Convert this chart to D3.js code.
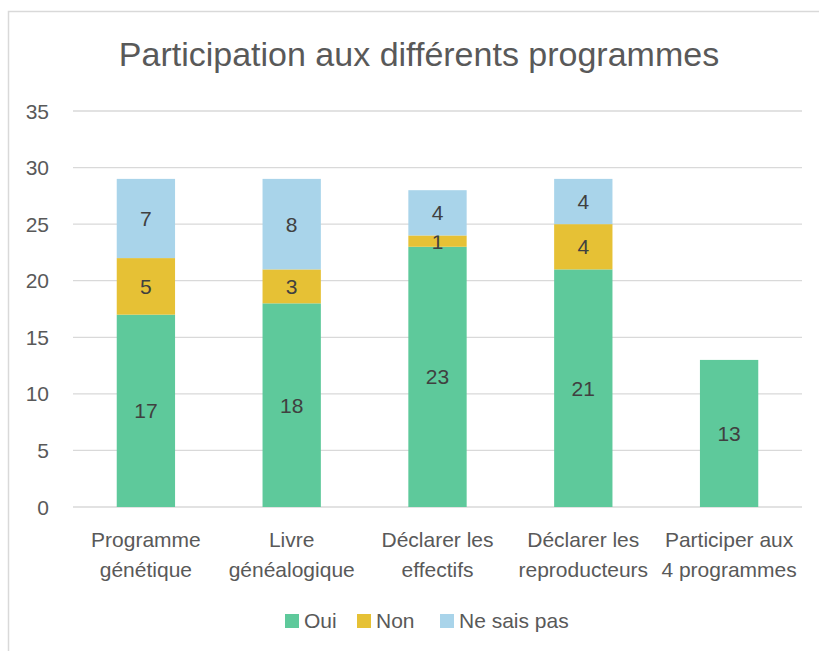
<!DOCTYPE html>
<html>
<head>
<meta charset="utf-8">
<script src="https://cdn.jsdelivr.net/npm/d3@7"></script>
<style>
  body { margin: 0; background: #fff; }
  text { font-family: "Liberation Sans", Arial, sans-serif; }
</style>
</head>
<body>
<div id="chart"></div>
<script>
// Data
const categories = [
  ["Programme", "génétique"],
  ["Livre", "généalogique"],
  ["Déclarer les", "effectifs"],
  ["Déclarer les", "reproducteurs"],
  ["Participer aux", "4 programmes"]
];
const oui = [17, 18, 23, 21, 13];
const non = [5, 3, 1, 4, 0];
const nsp = [7, 8, 4, 4, 0];
const seriesNames = ["Oui", "Non", "Ne sais pas"];
const yTicks = [0, 5, 10, 15, 20, 25, 30, 35];

const colors = ["#5EC99B", "#E6C135", "#A9D4EA"];

const W = 819, H = 651;
const margin = {top: 111, right: 17, bottom: 144, left: 73};
const width = W - margin.left - margin.right;
const height = H - margin.top - margin.bottom;

const svg = d3.select("#chart").append("svg")
  .attr("width", W).attr("height", H);

// Outer chart border (cropped on right and bottom)
svg.append("path")
  .attr("d", `M8.5,${H} V11.5 H${W}`)
  .attr("fill", "none")
  .attr("stroke", "#d9d9d9")
  .attr("stroke-width", 1.5);

// Title
svg.append("text")
  .attr("x", 419).attr("y", 66)
  .attr("text-anchor", "middle")
  .attr("font-size", 34)
  .attr("fill", "#595959")
  .text("Participation aux différents programmes");

const g = svg.append("g")
  .attr("transform", `translate(${margin.left},${margin.top})`);

const x = d3.scaleBand()
  .domain(d3.range(categories.length))
  .range([0, width])
  .paddingInner(0.6)
  .paddingOuter(0.3);

const y = d3.scaleLinear().domain([0, 35]).range([height, 0]);

// Gridlines
g.selectAll(".grid")
  .data(yTicks)
  .enter().append("line")
  .attr("x1", 0).attr("x2", width)
  .attr("y1", d => y(d)).attr("y2", d => y(d))
  .attr("stroke", "#d9d9d9")
  .attr("stroke-width", 1.3);

// Y tick labels
g.selectAll(".ytick")
  .data(yTicks)
  .enter().append("text")
  .attr("x", -24)
  .attr("y", d => y(d))
  .attr("dy", "0.36em")
  .attr("text-anchor", "end")
  .attr("font-size", 21)
  .attr("fill", "#595959")
  .text(d => d);

// Stack
const rows = categories.map((c, i) => ({i: i, Oui: oui[i], Non: non[i], "Ne sais pas": nsp[i]}));
const stacked = d3.stack().keys(seriesNames)(rows);

stacked.forEach((layer, li) => {
  layer.forEach(seg => {
    const v = seg[1] - seg[0];
    if (v <= 0) return;
    const xi = seg.data.i;
    g.append("rect")
      .attr("x", x(xi))
      .attr("y", y(seg[1]))
      .attr("width", x.bandwidth())
      .attr("height", y(seg[0]) - y(seg[1]))
      .attr("fill", colors[li]);
    g.append("text")
      .attr("x", x(xi) + x.bandwidth() / 2)
      .attr("y", y((seg[0] + seg[1]) / 2))
      .attr("dy", "0.36em")
      .attr("text-anchor", "middle")
      .attr("font-size", 21)
      .attr("fill", "#404040")
      .text(v);
  });
});

// Category labels
categories.forEach((lines, i) => {
  const t = g.append("text")
    .attr("x", x(i) + x.bandwidth() / 2)
    .attr("y", height + 40)
    .attr("text-anchor", "middle")
    .attr("font-size", 21)
    .attr("fill", "#595959");
  lines.forEach((l, k) => {
    t.append("tspan")
      .attr("x", x(i) + x.bandwidth() / 2)
      .attr("dy", k === 0 ? 0 : 30)
      .text(l);
  });
});

// Legend
const legendX = [285, 357, 440];
const legend = svg.append("g");
seriesNames.forEach((name, i) => {
  legend.append("rect")
    .attr("x", legendX[i]).attr("y", 614)
    .attr("width", 14).attr("height", 14)
    .attr("fill", colors[i]);
  legend.append("text")
    .attr("x", legendX[i] + 19).attr("y", 628)
    .attr("font-size", 21)
    .attr("fill", "#595959")
    .text(name);
});
</script>
</body>
</html>
